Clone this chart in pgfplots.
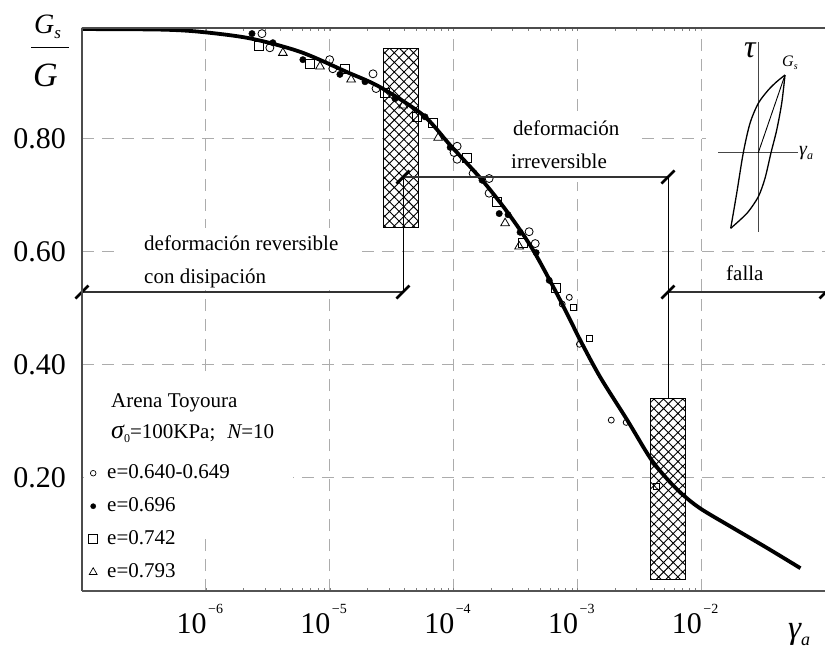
\documentclass[border=0pt]{standalone}
\usepackage{fontspec}
\setmainfont{Liberation Serif}
\usepackage{amsmath}
\usepackage{pgfplots}
\pgfplotsset{compat=1.18}
\usetikzlibrary{patterns.meta}
\newcommand{\fs}[1]{\fontsize{#1}{#1}\selectfont}
\newcommand{\xl}[1]{10\hspace{1.5pt}\raisebox{20pt}{\fs{14}−#1}}

\begin{document}
\begin{tikzpicture}
\useasboundingbox (0pt,0pt) rectangle (825pt,649pt);
% ---------------- main axis ----------------
\begin{axis}[
  at={(82pt,58pt)}, anchor=south west,
  width=743pt, height=563pt, scale only axis,
  xmode=log, xmin=1e-7, xmax=1e-1, ymin=0, ymax=0.995,
  axis line style={draw=none},
  xtick={1e-6,1e-5,1e-4,1e-3,1e-2},
  xticklabels={{\xl{6}},{\xl{5}},{\xl{4}},{\xl{3}},{\xl{2}}},
  minor xtick={},
  ytick={0.2,0.4,0.6,0.8}, yticklabels={0.20,0.40,0.60,0.80},
  major tick length=0pt,
  grid=major,
  major grid style={gray!65, line width=1pt, dash pattern=on 12pt off 8pt},
  xticklabel style={font=\fs{30}, anchor=north, inner sep=0pt, yshift=-13pt, xshift=-6pt},
  yticklabel style={font=\fs{30}, anchor=east, inner sep=0pt, xshift=-16pt},
  clip=false,
]
% hatched boxes
\draw[line width=1pt, fill=white, postaction={pattern={Hatch[angle=45,distance=6.8pt,line width=0.9pt]}}]
  (axis cs:2.70e-5,0.643) rectangle (axis cs:5.18e-5,0.9595);
\draw[line width=1pt, fill=white, postaction={pattern={Hatch[angle=45,distance=6.8pt,line width=0.9pt]}}]
  (axis cs:3.88e-3,0.021) rectangle (axis cs:7.45e-3,0.341);

% e = 0.640-0.649 (open)
\addplot[only marks, mark=o, mark size=4pt, mark options={fill=white, line width=0.8pt}] coordinates {
 (2.84e-6,0.985) (3.29e-6,0.960) (1.00e-5,0.939) (1.06e-5,0.923) (2.24e-5,0.914) (2.37e-5,0.888)
 (1.07e-4,0.786) (1.01e-4,0.775) (1.07e-4,0.763) (1.44e-4,0.738) (1.94e-4,0.729) (1.94e-4,0.703)
 (4.08e-4,0.635) (4.57e-4,0.614)};
\addplot[only marks, mark=o, mark size=3pt, mark options={fill=white, line width=0.8pt}] coordinates {
 (8.61e-4,0.519) (7.55e-4,0.507) (1.04e-3,0.436) (1.88e-3,0.302) (2.48e-3,0.298)};
% e = 0.742 (squares)
\addplot[only marks, mark=square, mark size=4.5pt, mark options={fill=white, line width=0.8pt}] coordinates {
 (2.68e-6,0.964) (6.93e-6,0.932) (1.33e-5,0.923) (2.80e-5,0.881) (5.08e-5,0.838) (6.84e-5,0.828)
 (1.29e-4,0.766) (2.25e-4,0.687) (3.66e-4,0.616) (6.75e-4,0.535)};
\addplot[only marks, mark=square, mark size=3pt, mark options={fill=white, line width=0.8pt}] coordinates {
 (9.27e-4,0.501) (1.25e-3,0.447) (4.35e-3,0.185)};
% e = 0.793 (triangles)
\addplot[only marks, mark=triangle, mark size=5pt, mark options={fill=white, line width=0.8pt}] coordinates {
 (4.19e-6,0.951) (8.36e-6,0.927) (1.49e-5,0.904) (3.92e-5,0.858) (7.52e-5,0.801) (2.61e-4,0.650) (3.39e-4,0.609)};
% e = 0.696 (filled)
\addplot[only marks, mark=*, mark size=3.2pt] coordinates {
 (2.36e-6,0.985) (3.48e-6,0.969) (6.08e-6,0.939) (1.21e-5,0.913) (1.93e-5,0.900) (3.37e-5,0.870)
 (5.89e-5,0.838) (9.40e-5,0.784) (1.70e-4,0.726) (2.34e-4,0.667) (2.76e-4,0.665) (3.45e-4,0.634)
 (4.65e-4,0.598) (5.93e-4,0.549)};
% fitted curve
\addplot[black, line width=3.8pt, smooth, tension=0.5, no marks] coordinates {
 (1.000e-7,0.9931) (4.246e-7,0.9922) (8.94e-7,0.9883) (2.268e-6,0.9767) (5.754e-6,0.9530)
 (1.380e-5,0.9171) (2.550e-5,0.8906) (5.678e-5,0.8411) (9.387e-5,0.7881) (1.702e-4,0.7262)
 (2.762e-4,0.6678) (4.399e-4,0.6024) (7.274e-4,0.5141) (1.055e-3,0.4434) (1.531e-3,0.3779)
 (2.532e-3,0.3019) (3.884e-3,0.2348) (5.33e-3,0.1976) (7.179e-3,0.1693) (1.004e-2,0.1446)
 (1.821e-2,0.1110) (3.428e-2,0.0757) (6.336e-2,0.0403)};
\end{axis}

% ---------------- overlay axis in pixel units ----------------
\begin{axis}[
  at={(0pt,0pt)}, anchor=south west,
  width=825pt, height=649pt, scale only axis, hide axis,
  xmin=0, xmax=825, ymin=0, ymax=649, y dir=reverse, clip=false,
  legend style={at={(axis cs:88,462)}, anchor=north west, draw=none, fill=none,
    inner sep=0pt, font=\fs{21}, row sep=11pt, column sep=8pt,
    nodes={inner sep=1pt, text height=15pt, text depth=5pt}, cells={anchor=west}},
  legend cell align=left,
  legend image code/.code={\path[draw=none,fill=none] (-5pt,0pt) -- (5pt,0pt); \draw[#1] plot coordinates {(0pt,0pt)};},
]
% white boxes behind texts
\fill[white] (122,228) rectangle (358,290);
\fill[white] (500,115) rectangle (636,182);
\fill[white] (706,30) rectangle (825,245);
\fill[white] (84,372) rectangle (293,532);

% brackets
\draw[gray!40!black, line width=1.2pt] (82,292) -- (403,292);
\draw[gray!40!black, line width=1.2pt] (403,177) -- (668,177);
\draw[gray!40!black, line width=1.2pt] (668,292) -- (830,292);
\draw[black, line width=1pt] (403,177) -- (403,292);
\draw[black, line width=1pt] (668,177) -- (668,398);
\draw[black, line width=2.8pt] (75.5,298.5) -- (88.5,285.5);
\draw[black, line width=2.8pt] (396.5,298.5) -- (409.5,285.5);
\draw[black, line width=2.8pt] (396.5,183.5) -- (409.5,170.5);
\draw[black, line width=2.8pt] (661.5,183.5) -- (674.5,170.5);
\draw[black, line width=2.8pt] (661.5,298.5) -- (674.5,285.5);
\draw[black, line width=2.8pt] (819.5,298.5) -- (832.5,285.5);

% texts
\node[anchor=base west, inner sep=0pt, font=\fs{21}] at (144,250) {deformación reversible};
\node[anchor=base west, inner sep=0pt, font=\fs{21}] at (144,283) {con disipación};
\node[anchor=base west, inner sep=0pt, font=\fs{21}] at (513,135) {deformación};
\node[anchor=base west, inner sep=0pt, font=\fs{21}] at (511,168) {irreversible};
\node[anchor=base west, inner sep=0pt, font=\fs{21}] at (726,280) {falla};
\node[anchor=base west, inner sep=0pt, font=\fs{21}] at (111,407) {Arena Toyoura};
\node[anchor=base west, inner sep=0pt, font=\fs{21}] at (111,438)
  {{\fs{26}\itshape σ}\raisebox{-4pt}{\fs{12}0}=100KPa;\hspace{12pt}{\itshape N}=10};

% inset hysteresis sketch
\draw[gray!55!black, line width=1pt] (758.3,42) -- (758.3,232);
\draw[gray!55!black, line width=1pt] (718,152.7) -- (798,152.7);
\addplot[forget plot, black, line width=1.3pt, smooth, tension=0.5] coordinates {
 (730.7,228.3) (736.7,193.3) (743.3,152.7) (750,123.3) (758.3,103.3) (768.3,90) (776.7,81.7) (785,75)};
\addplot[forget plot, black, line width=1.3pt, smooth, tension=0.5] coordinates {
 (785,75) (781.7,103.3) (776.7,130) (771,152.7) (765,178.3) (758.3,196.7) (748.3,211.7) (740,220) (730.7,228.3)};
\addplot[forget plot, black, line width=0.9pt] coordinates {(758.3,152.7) (785,75)};
\node[anchor=base west, inner sep=0pt, font=\fs{32}\itshape] at (744,57) {τ};
\node[anchor=base west, inner sep=0pt] at (782,66) {{\fs{16}\itshape G}\raisebox{-3pt}{\fs{10}\itshape s}};
\node[anchor=base west, inner sep=0pt] at (799,155) {{\fs{20}\itshape γ}\raisebox{-4pt}{\fs{12}\itshape a}};

% spines
\draw[gray!60!black, line width=1.3pt] (82,28) -- (825,28);
\draw[gray!60!black, line width=1.3pt] (82,28) -- (82,591);
\draw[gray!65!black, line width=1.8pt] (82,591) -- (825,591);

% axis labels
\node[anchor=base west, inner sep=0pt] at (34,33) {{\fs{28}\itshape G}\raisebox{-5pt}{\fs{17}\itshape s}};
\draw[black, line width=1.3pt] (31,47.7) -- (69,47.7);
\node[anchor=base west, inner sep=0pt] at (33,86) {\fs{34}\itshape G};
\node[anchor=base west, inner sep=0pt] at (788,638) {{\fs{33}\itshape γ}\raisebox{-7pt}{\fs{18}\itshape a}};

% legend
\addlegendimage{only marks, mark=o, mark size=2.8pt, mark options={fill=white, line width=0.7pt}}
\addlegendentry{e=0.640-0.649}
\addlegendimage{only marks, mark=*, mark size=2.6pt}
\addlegendentry{e=0.696}
\addlegendimage{only marks, mark=square, mark size=4.5pt, mark options={line width=0.8pt}}
\addlegendentry{e=0.742}
\addlegendimage{only marks, mark=triangle, mark size=4.5pt, mark options={line width=0.7pt}}
\addlegendentry{e=0.793}
\end{axis}
\end{tikzpicture}
\end{document}
